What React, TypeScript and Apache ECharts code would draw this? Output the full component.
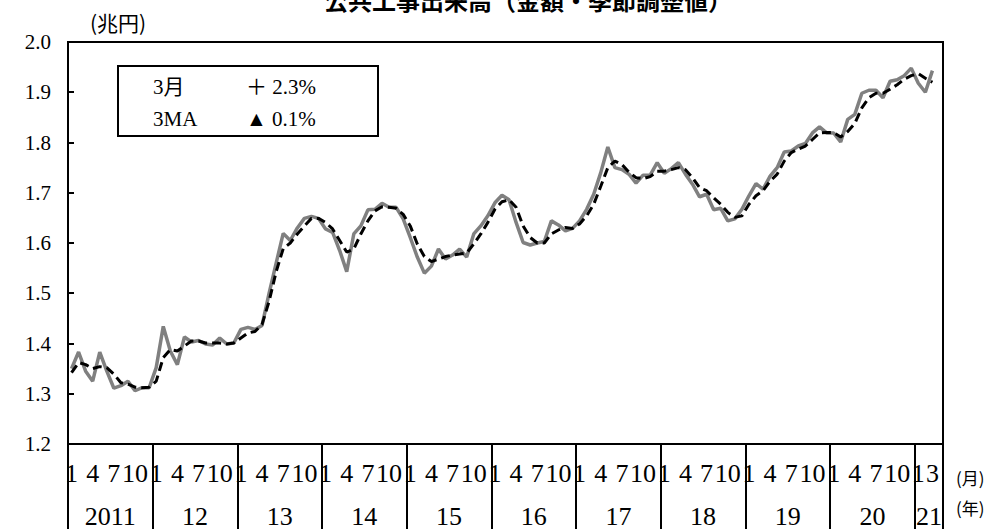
import React, { useEffect, useRef } from "react";
import * as echarts from "echarts";

// 2011年1月 〜 2021年3月（月次）
const startYear = 2011;
const monthlyValues: number[] = [
  1.350, 1.383, 1.345, 1.325, 1.383, 1.345, 1.311, 1.316, 1.325, 1.306, 1.312, 1.312,
  1.352, 1.434, 1.385, 1.358, 1.413, 1.403, 1.406, 1.399, 1.397, 1.411, 1.399, 1.401,
  1.428, 1.432, 1.428, 1.436, 1.500, 1.560, 1.619, 1.605, 1.630, 1.649, 1.653, 1.649,
  1.628, 1.621, 1.585, 1.543, 1.618, 1.634, 1.666, 1.667, 1.679, 1.671, 1.671, 1.648,
  1.611, 1.572, 1.540, 1.554, 1.588, 1.568, 1.576, 1.588, 1.572, 1.618, 1.634, 1.654,
  1.680, 1.695, 1.686, 1.641, 1.601, 1.596, 1.600, 1.603, 1.644, 1.636, 1.624, 1.629,
  1.644, 1.667, 1.697, 1.740, 1.791, 1.750, 1.746, 1.737, 1.719, 1.735, 1.735, 1.760,
  1.739, 1.748, 1.760, 1.737, 1.717, 1.692, 1.697, 1.666, 1.669, 1.644, 1.648, 1.667,
  1.694, 1.718, 1.707, 1.733, 1.750, 1.781, 1.783, 1.793, 1.798, 1.819, 1.831, 1.819,
  1.819, 1.801, 1.846, 1.856, 1.898, 1.904, 1.904, 1.889, 1.922, 1.925, 1.933, 1.948,
  1.918, 1.900, 1.943,
];
const ma3Values: number[] = [
  1.342, 1.362, 1.358, 1.350, 1.354, 1.352, 1.339, 1.322, 1.319, 1.313, 1.312, 1.313,
  1.325, 1.372, 1.388, 1.385, 1.395, 1.405, 1.405, 1.401, 1.401, 1.401, 1.399, 1.401,
  1.411, 1.421, 1.424, 1.438, 1.484, 1.543, 1.589, 1.600, 1.618, 1.634, 1.649, 1.649,
  1.641, 1.628, 1.605, 1.582, 1.588, 1.618, 1.644, 1.664, 1.672, 1.671, 1.669, 1.657,
  1.634, 1.598, 1.573, 1.563, 1.568, 1.573, 1.576, 1.578, 1.580, 1.598, 1.618, 1.641,
  1.667, 1.682, 1.686, 1.671, 1.634, 1.611, 1.600, 1.600, 1.618, 1.626, 1.631, 1.629,
  1.638, 1.654, 1.677, 1.713, 1.750, 1.763, 1.756, 1.741, 1.730, 1.728, 1.732, 1.743,
  1.743, 1.746, 1.750, 1.746, 1.730, 1.710, 1.704, 1.690, 1.677, 1.661, 1.651, 1.654,
  1.677, 1.694, 1.704, 1.723, 1.737, 1.763, 1.780, 1.787, 1.793, 1.806, 1.819, 1.820,
  1.820, 1.811, 1.822, 1.838, 1.869, 1.889, 1.898, 1.898, 1.906, 1.915, 1.926, 1.933,
  1.937, 1.928, 1.920,
];
const yearLabels: string[] = ["2011", "12", "13", "14", "15", "16", "17", "18", "19", "20", "21"];
const monthLabelMonths: number[] = [1, 4, 7, 10];
const titleText = "公共工事出来高（金額・季節調整値）";
const unitText = "(兆円)";
const legendRows: string[][] = [
  ["3月", "＋ 2.3%"],
  ["3MA", "▲ 0.1%"],
];

const slotCount = 124; // month slots on the axis (last slot empty)
const serifFont = "'Liberation Serif', 'Noto Sans CJK JP', serif";
const cjkFont = "'Noto Sans CJK JP', sans-serif";

export default function App() {
  const ref = useRef<HTMLDivElement>(null);
  useEffect(() => {
    if (!ref.current) return;
    const chart = echarts.init(ref.current, null, { renderer: "svg" });
    const n = monthlyValues.length;
    const lastIdx = n - 1;
    const grayData = monthlyValues.map((v, i) => [i + 0.5, v]);
    const maData = ma3Values.map((v, i) => [i + 0.5, v]);

    const monthFmt = (v: number) => {
      const i = v - 0.5;
      if (!Number.isInteger(i) || i < 0 || i > lastIdx) return "";
      const m = (i % 12) + 1;
      if (monthLabelMonths.includes(m) || i === lastIdx) return String(m);
      return "";
    };
    const lastYearStart = Math.floor(lastIdx / 12) * 12;
    const lastYearCenter = (lastYearStart + slotCount) / 2;
    const yearFmt = (v: number) => {
      if (Math.abs(v - lastYearCenter) < 1e-6) return yearLabels[lastYearStart / 12];
      if (v < lastYearStart && (v - 6) % 12 === 0) return yearLabels[(v - 6) / 12];
      return "";
    };

    const grid = { left: 68, right: 53, top: 42, bottom: 83, show: true, borderColor: "#000", borderWidth: 2, backgroundColor: "transparent" };

    chart.setOption({
      animation: false,
      backgroundColor: "#fff",
      grid,
      xAxis: [
        {
          type: "value", position: "bottom", min: 0, max: slotCount, interval: 12,
          axisLine: { show: true, lineStyle: { color: "#000", width: 2 } },
          axisTick: { show: true, inside: false, length: 90, lineStyle: { color: "#000", width: 2 } },
          axisLabel: { show: false },
          splitLine: { show: false },
        },
        {
          type: "value", position: "bottom", offset: 0, min: 0, max: slotCount, interval: 0.5,
          axisLine: { show: false }, axisTick: { show: false }, splitLine: { show: false },
          axisLabel: { show: true, formatter: monthFmt, margin: 16, fontSize: 26, fontFamily: serifFont, color: "#000", showMinLabel: true, showMaxLabel: true },
        },
        {
          type: "value", position: "bottom", offset: 0, min: 0, max: slotCount, interval: 2,
          axisLine: { show: false }, axisTick: { show: false }, splitLine: { show: false },
          axisLabel: { show: true, formatter: yearFmt, margin: 59, fontSize: 26, fontFamily: serifFont, color: "#000" },
        },
      ],
      yAxis: {
        type: "value", min: 1.2, max: 2.0, interval: 0.1,
        axisLine: { show: true, lineStyle: { color: "#000", width: 2 } },
        axisTick: { show: true, inside: true, length: 6, lineStyle: { color: "#000", width: 2 } },
        splitLine: { show: false },
        axisLabel: { formatter: (v: number) => v.toFixed(1), margin: 17, fontSize: 21, fontFamily: serifFont, color: "#000" },
      },
      series: [
        {
          name: "3月", type: "line", xAxisIndex: 0, data: grayData, showSymbol: false, symbol: "none",
          lineStyle: { color: "#808080", width: 3.5 }, z: 2,
        },
        {
          name: "3MA", type: "line", xAxisIndex: 0, data: maData, showSymbol: false, symbol: "none",
          lineStyle: { color: "#000", width: 3, type: [9, 5] }, z: 3,
        },
      ],
      graphic: [
        { type: "text", x: 528, y: -1, style: { text: titleText, fontSize: 24, fontWeight: "bold", fontFamily: cjkFont, fill: "#000", textAlign: "center", textVerticalAlign: "middle" } },
        { type: "text", x: 90, y: 22, style: { text: unitText, fontSize: 21, fontFamily: cjkFont, fill: "#000", textVerticalAlign: "middle" } },
        { type: "text", x: 956, y: 477, style: { text: "(月)", fontSize: 17, fontFamily: cjkFont, fill: "#000", textVerticalAlign: "middle" } },
        { type: "text", x: 956, y: 507, style: { text: "(年)", fontSize: 17, fontFamily: cjkFont, fill: "#000", textVerticalAlign: "middle" } },
        { type: "rect", shape: { x: 118, y: 66, width: 260, height: 70 }, style: { fill: "#fff", stroke: "#000", lineWidth: 2 }, z: 10 },
        { type: "text", x: 153, y: 87, z: 11, style: { text: legendRows[0][0], fontSize: 21, fontFamily: serifFont, fill: "#000", textVerticalAlign: "middle" } },
        { type: "text", x: 246, y: 87, z: 11, style: { text: legendRows[0][1], fontSize: 21, fontFamily: serifFont, fill: "#000", textVerticalAlign: "middle" } },
        { type: "text", x: 153, y: 119, z: 11, style: { text: legendRows[1][0], fontSize: 21, fontFamily: serifFont, fill: "#000", textVerticalAlign: "middle" } },
        { type: "text", x: 246, y: 119, z: 11, style: { text: legendRows[1][1], fontSize: 21, fontFamily: serifFont, fill: "#000", textVerticalAlign: "middle" } },
      ],
    });
    return () => chart.dispose();
  }, []);
  return <div ref={ref} style={{ position: "fixed", left: 0, top: 0, width: 996, height: 529, background: "#fff" }} />;
}
